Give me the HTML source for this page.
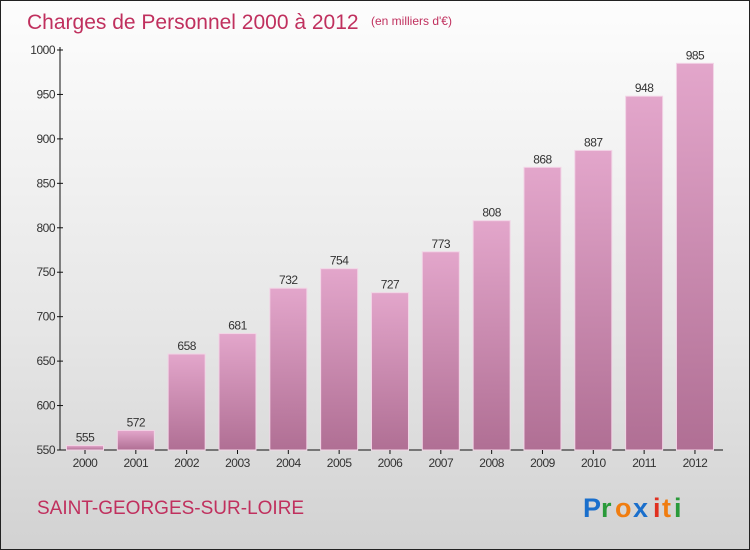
<!DOCTYPE html>
<html><head><meta charset="utf-8"><style>
body{margin:0}
#wrap{position:relative;width:748px;height:548px;border:1px solid #222;background:linear-gradient(#fdfdfd,#e6e6e6 60%,#d2d2d2);overflow:hidden;font-family:"Liberation Sans",sans-serif}
</style></head><body>
<div id="wrap">
<svg id="chart" width="748" height="548">
<defs><linearGradient id="bg" x1="0" y1="0" x2="0" y2="1"><stop offset="0" stop-color="#e3a6cb"/><stop offset="1" stop-color="#b06f94"/></linearGradient></defs>
<text x="26" y="28" font-size="21" fill="#c0305e">Charges de Personnel 2000 à 2012</text>
<text x="370" y="24" font-size="12" fill="#c0305e">(en milliers d'€)</text>
<text x="36" y="513" font-size="19" fill="#c0305e">SAINT-GEORGES-SUR-LOIRE</text>
<g font-size="27" font-weight="bold">
<text x="582" y="516" fill="#1a6fcc">P</text><text x="600" y="516" fill="#2a9a3a">r</text><text x="614" y="516" fill="#f07d10">o</text><text x="632" y="516" fill="#1a6fcc">x</text><text x="652" y="516" fill="#e03020">i</text><text x="661" y="516" fill="#f07d10">t</text><text x="673" y="516" fill="#2a9a3a">i</text>
</g>
<g id="plot"></g>
</svg></div>
<script>
const categories=["2000","2001","2002","2003","2004","2005","2006","2007","2008","2009","2010","2011","2012"];
const values=[555,572,658,681,732,754,727,773,808,868,887,948,985];
const yTicks=[550,600,650,700,750,800,850,900,950,1000];
const ns="http://www.w3.org/2000/svg";
const g=document.getElementById('plot');
const y=v=>449-(v-550)*(400/450);
const x=i=>85-1+i*50.83;
function el(t,a,p){const e=document.createElementNS(ns,t);for(const k in a)e.setAttribute(k,a[k]);(p||g).appendChild(e);return e;}
const ax=el('line',{x1:59,y1:y(1000)-3,x2:59,y2:449,stroke:'#111'});


const bx=el('line',{x1:59,y1:449,x2:722,y2:449,stroke:'#111'});


yTicks.forEach(v=>{
 el('line',{x1:56,x2:62,y1:y(v),y2:y(v),stroke:'#111'});
 const t=el('text',{x:54,y:y(v)+4,'font-size':12,'text-anchor':'end',fill:'#333','letter-spacing':'-0.5'});
 t.textContent=v;
 
 
});
categories.forEach((c,i)=>{
 const cx=x(i),w=37;
 const r=el('rect',{x:cx-w/2,y:y(values[i]),width:w,height:449-y(values[i]),fill:'url(#bg)',stroke:'#f2d4e6','stroke-width':1});
 
 
 const l=el('text',{x:cx,y:y(values[i])-4,'font-size':12,'text-anchor':'middle',fill:'#333','letter-spacing':'-0.5'});
 l.textContent=values[i];
 
 
 el('line',{x1:cx,x2:cx,y1:449,y2:453,stroke:'#111'});
 const tl=el('text',{x:cx,y:466,'font-size':12,'text-anchor':'middle',fill:'#333','letter-spacing':'-0.5'});
 tl.textContent=c;
 
 
});
</script>
</body></html>
